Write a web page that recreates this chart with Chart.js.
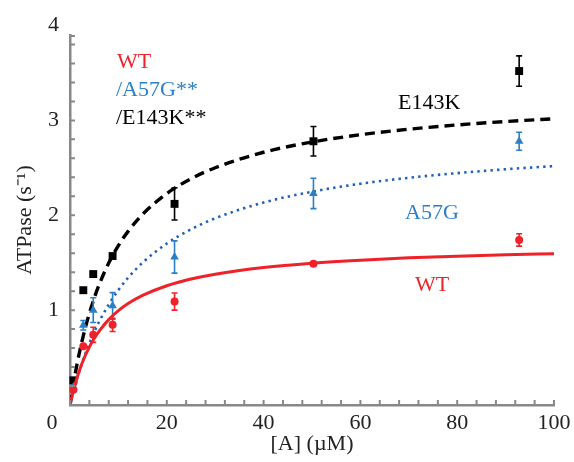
<!DOCTYPE html>
<html>
<head>
<meta charset="utf-8">
<script src="https://cdn.jsdelivr.net/npm/chart.js@4.4.1/dist/chart.umd.min.js"></script>
<style>
  html, body { margin: 0; padding: 0; background: #ffffff; }
  #wrap { width: 574px; height: 462px; }
</style>
</head>
<body>
<div id="wrap"><canvas id="c" width="574" height="462"></canvas></div>
<script>
// Actin concentration (µM) of the measured points
const concA = [0.7, 2.75, 4.8, 8.8, 21.6, 50.3, 92.8];

// Measured ATPase rates (s^-1) with their error bars
const wtRate    = [0.16, 0.62, 0.74, 0.845, 1.09, 1.49, 1.74];
const wtErr     = [0, 0, 0.08, 0.07, 0.09, 0.01, 0.065];
const a57gRate  = [0.19, 0.84, 1.00, 1.045, 1.56, 2.23, 2.78];
const a57gErr   = [0, 0.05, 0.13, 0.14, 0.17, 0.16, 0.095];
const e143kRate = [0.26, 1.21, 1.38, 1.57, 2.12, 2.78, 3.52];
const e143kErr  = [0, 0, 0, 0, 0.17, 0.155, 0.16];

// Fitted curves
const fitConc  = [0, 1, 2, 3, 4, 5, 6, 8, 10, 12, 15, 20, 25, 30, 40, 50, 60, 70, 80, 90, 100];
const wtFit    = [0, 0.209, 0.372, 0.503, 0.611, 0.701, 0.777, 0.900, 0.994, 1.069, 1.155, 1.257, 1.328, 1.379, 1.449, 1.495, 1.527, 1.551, 1.569, 1.583, 1.595];
const a57gFit  = [0, 0.196, 0.367, 0.517, 0.650, 0.769, 0.876, 1.059, 1.212, 1.341, 1.500, 1.702, 1.852, 1.968, 2.134, 2.248, 2.332, 2.395, 2.444, 2.485, 2.518];
const e143kFit = [0, 0.309, 0.566, 0.782, 0.966, 1.126, 1.265, 1.496, 1.680, 1.830, 2.010, 2.229, 2.385, 2.501, 2.664, 2.772, 2.849, 2.907, 2.952, 2.988, 3.017];

// Axis ticks
const xTickValues = [0, 20, 40, 60, 80, 100];
const yTickValues = [0, 1, 2, 3, 4];

const RED = '#ee2229';
const BLUE = '#2b7fc6';
const BLUE_DOT = '#1f5fbf';
const BLACK = '#000000';
const AXIS = '#888888';
const SERIF = "'Liberation Serif', 'Times New Roman', serif";

const toXY = (xs, ys) => xs.map((x, i) => ({ x: x, y: ys[i] }));

function pointSet(label, ys, errs, color, shape, radius, order) {
  return {
    label: label,
    data: toXY(concA, ys),
    errorBars: errs,
    showLine: false,
    pointStyle: shape,
    pointRadius: radius,
    pointHoverRadius: radius,
    pointBackgroundColor: color,
    pointBorderColor: color,
    pointBorderWidth: 0,
    clip: false,
    order: order
  };
}

function fitSet(label, ys, color, width, dash, order) {
  return {
    label: label,
    data: toXY(fitConc, ys),
    showLine: true,
    borderColor: color,
    borderWidth: width,
    borderDash: dash,
    borderCapStyle: 'butt',
    cubicInterpolationMode: 'monotone',
    pointRadius: 0,
    pointHoverRadius: 0,
    fill: false,
    order: order
  };
}

// Vertical error bars with caps, drawn under each marker set
const errorBarPlugin = {
  id: 'errorBars',
  beforeDatasetDraw(chart, args) {
    const ds = chart.data.datasets[args.index];
    if (!ds.errorBars) return;
    const xs = chart.scales.x, ys = chart.scales.y, ctx = chart.ctx;
    ctx.save();
    ctx.strokeStyle = ds.pointBackgroundColor;
    ctx.lineWidth = 1.6;
    ds.data.forEach((p, i) => {
      const e = ds.errorBars[i];
      if (!e) return;
      const px = xs.getPixelForValue(p.x);
      const top = ys.getPixelForValue(p.y + e);
      const bot = ys.getPixelForValue(p.y - e);
      ctx.beginPath();
      ctx.moveTo(px, top); ctx.lineTo(px, bot);
      ctx.moveTo(px - 3, top); ctx.lineTo(px + 3, top);
      ctx.moveTo(px - 3, bot); ctx.lineTo(px + 3, bot);
      ctx.stroke();
    });
    ctx.restore();
  }
};

// Inward minor ticks, the corner "0" and the text labels
const decorPlugin = {
  id: 'decor',
  afterDraw(chart) {
    const ctx = chart.ctx, xs = chart.scales.x, ys = chart.scales.y;
    const area = chart.chartArea;
    ctx.save();
    ctx.strokeStyle = AXIS;
    ctx.lineWidth = 2;
    ctx.beginPath();
    for (let i = 0; i <= 19; i++) {
      const py = ys.getPixelForValue(i * 0.2);
      ctx.moveTo(area.left, py); ctx.lineTo(area.left + 5, py);
    }
    ctx.moveTo(area.left, area.top + 1); ctx.lineTo(area.left + 5, area.top + 1);
    for (let i = 0; i <= 25; i++) {
      const px = xs.getPixelForValue(i * 4);
      ctx.moveTo(px, area.bottom); ctx.lineTo(px, area.bottom - 5);
    }
    ctx.stroke();

    ctx.font = '22px ' + SERIF;
    ctx.textBaseline = 'middle';
    ctx.textAlign = 'center';
    ctx.fillStyle = '#222222';
    ctx.fillText('0', area.left - 18, area.bottom + 18);

    ctx.textAlign = 'left';
    ctx.fillStyle = RED;   ctx.fillText('WT', 117, 62);
    ctx.fillStyle = BLUE;  ctx.fillText('/A57G**', 116, 90);
    ctx.fillStyle = BLACK; ctx.fillText('/E143K**', 116, 118);

    ctx.fillStyle = BLACK; ctx.fillText('E143K', 398, 103);
    ctx.fillStyle = BLUE;  ctx.fillText('A57G', 405, 213);
    ctx.fillStyle = RED;   ctx.fillText('WT', 415, 285);
    ctx.restore();
  }
};

new Chart(document.getElementById('c'), {
  type: 'scatter',
  data: {
    datasets: [
      pointSet('WT', wtRate, wtErr, RED, 'circle', 4, 0),
      fitSet('WT fit', wtFit, RED, 3, [], 1),
      pointSet('A57G', a57gRate, a57gErr, BLUE, 'triangle', 5, 2),
      fitSet('A57G fit', a57gFit, BLUE_DOT, 2.6, [2.4, 4.2], 3),
      pointSet('E143K', e143kRate, e143kErr, BLACK, 'rect', 5.6, 4),
      fitSet('E143K fit', e143kFit, BLACK, 3.4, [10, 6], 5)
    ]
  },
  options: {
    responsive: false,
    animation: false,
    devicePixelRatio: 1,
    layout: { padding: { top: 35, right: 20, left: 0, bottom: 0 } },
    plugins: { legend: { display: false }, tooltip: { enabled: false } },
    scales: {
      x: {
        type: 'linear',
        min: 0, max: 100,
        afterFit(scale) {
          scale.height = 57;
          scale.paddingLeft = 0;
          scale.paddingRight = 0;
        },
        afterBuildTicks(scale) { scale.ticks = xTickValues.map(v => ({ value: v })); },
        grid: { display: false, drawTicks: false },
        border: { display: true, color: AXIS, width: 2.5 },
        ticks: {
          autoSkip: false,
          maxRotation: 0,
          padding: 5,
          color: '#222222',
          font: { family: SERIF, size: 22 },
          callback: v => (v === 0 ? '' : String(v))
        },
        title: {
          display: true,
          text: '[A] (µM)',
          color: '#222222',
          font: { family: SERIF, size: 22 },
          padding: { top: 0, bottom: 5 }
        }
      },
      y: {
        type: 'linear',
        min: 0, max: 3.9,
        afterFit(scale) {
          scale.width = 70;
          scale.paddingTop = 0;
          scale.paddingBottom = 0;
        },
        afterBuildTicks(scale) { scale.ticks = yTickValues.map(v => ({ value: v })); },
        grid: { display: false, drawTicks: false },
        border: { display: true, color: AXIS, width: 2.5 },
        ticks: {
          autoSkip: false,
          padding: 11,
          color: '#222222',
          font: { family: SERIF, size: 22 },
          callback: v => (v === 0 ? '' : String(v))
        },
        title: {
          display: true,
          text: 'ATPase (s⁻¹)',
          color: '#222222',
          font: { family: SERIF, size: 22 },
          padding: { top: 12, bottom: 0 }
        }
      }
    }
  },
  plugins: [errorBarPlugin, decorPlugin]
});
</script>
</body>
</html>
